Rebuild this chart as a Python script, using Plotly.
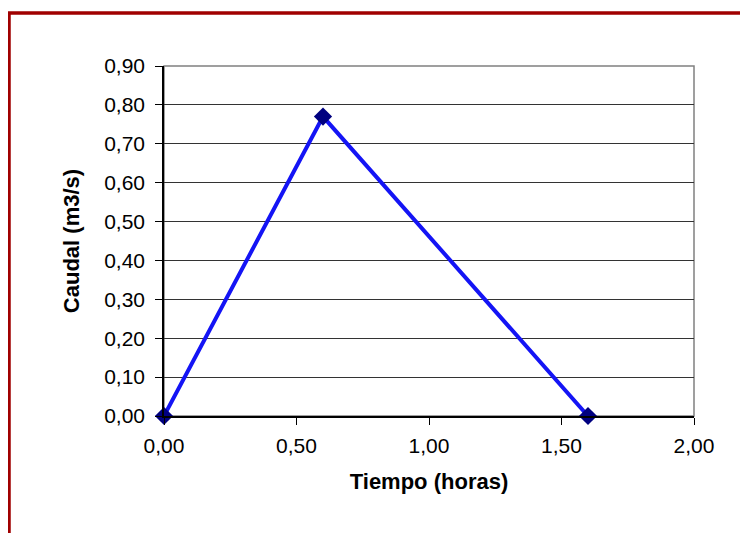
import plotly.graph_objects as go

tiempo = [0.00, 0.60, 1.60]
caudal = [0.00, 0.77, 0.00]
y_ticks = [0.0, 0.1, 0.2, 0.3, 0.4, 0.5, 0.6, 0.7, 0.8, 0.9]
x_ticks = [0.0, 0.5, 1.0, 1.5, 2.0]

# page is offset by the default 8px body margin
OFF = 8
W, H = 748 - OFF, 533 - OFF
L, R, T, B = 164 - OFF, 748 - 694, 66 - OFF, 533 - 416
pw, ph = W - L - R, H - T - B

def px(x):
    return (x - OFF - L) / pw

def py(y):
    return (H - B - (y - OFF)) / ph

fig = go.Figure()
fig.add_trace(go.Scatter(
    x=tiempo, y=caudal, mode="lines+markers",
    line=dict(color="#1414F5", width=4),
    marker=dict(symbol="diamond", color="#000080", size=14),
    cliponaxis=False, showlegend=False,
))

font = "Liberation Sans, Arial, sans-serif"
fig.update_layout(
    width=W, height=H,
    margin=dict(l=L, r=R, t=T, b=B),
    paper_bgcolor="white", plot_bgcolor="white",
    separators=",.",
    font=dict(family=font, size=21, color="black"),
    xaxis=dict(
        range=[0, 2], tickvals=x_ticks, tickformat=".2f",
        showgrid=False, zeroline=False,
        showline=True, linecolor="black", linewidth=1.5,
        ticks="outside", ticklen=7, tickcolor="black", ticklabelstandoff=3,
        title=dict(text="<b>Tiempo (horas)</b>", font=dict(size=22), standoff=18),
    ),
    yaxis=dict(
        range=[0, 0.9], tickvals=y_ticks, tickformat=".2f",
        showgrid=True, gridcolor="#333333", gridwidth=1, zeroline=False,
        showline=True, linecolor="black", linewidth=1.5,
        ticks="outside", ticklen=7, tickcolor="black", ticklabelstandoff=6,
        title=dict(text="<b>Caudal (m3/s)</b>", font=dict(size=22), standoff=18),
    ),
    shapes=[
        dict(type="rect", xref="paper", yref="paper", x0=0, x1=1, y0=0, y1=1,
             line=dict(color="#808080", width=1.5), layer="below"),
        dict(type="rect", xref="paper", yref="paper",
             x0=px(9), x1=px(780), y0=py(13), y1=py(570),
             line=dict(color="#A00000", width=3.5)),
    ],
)

fig.write_html("out.html")
